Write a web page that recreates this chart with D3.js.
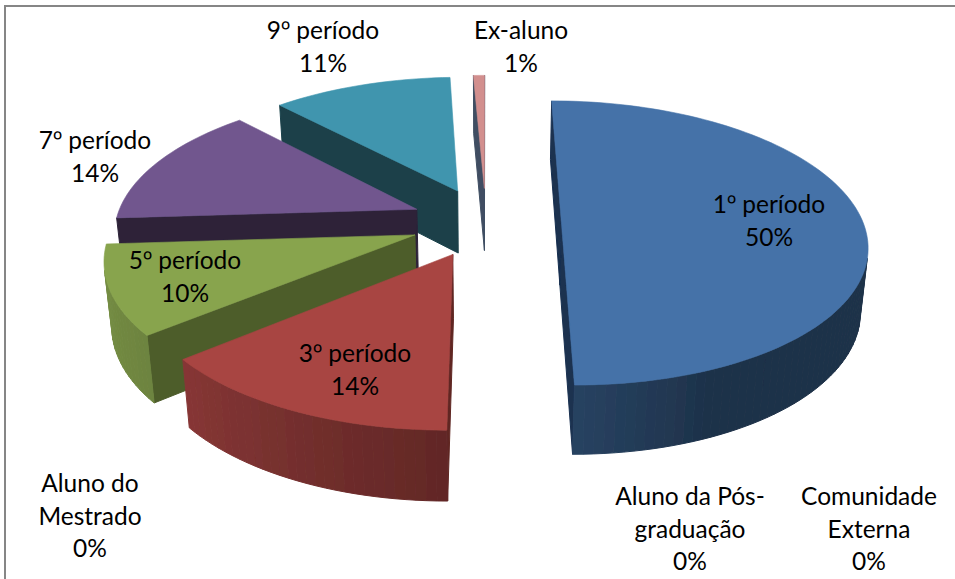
<!DOCTYPE html>
<html>
<head>
<meta charset="utf-8">
<script src="https://d3js.org/d3.v7.min.js"></script>
<style>
  @font-face { font-family: "Ordinal"; src: local("Noto Sans Regular"), local("NotoSans-Regular"), local("Noto Sans"); unicode-range: U+BA; }
  html, body { margin: 0; padding: 0; background: #fff; }
  svg { display: block; }
  text { font-family: Ordinal, Lato, "Open Sans", sans-serif; font-size: 24.5px; fill: #000; }
</style>
</head>
<body>
<div id="chart"></div>
<script>
// chart data, clockwise from 12 o'clock
var categories = ["1º período", "Comunidade\nExterna", "Aluno da Pós-\ngraduação", "Aluno do\nMestrado",
    "3º período", "5º período", "7º período", "9º período", "Ex-aluno"];
var values = [50, 0, 0, 0, 14, 10, 14, 11.3, 0.7];

var topColors = ["#4472a8", "#4472a8", "#4472a8", "#4472a8", "#a84442", "#88a44e", "#71578e", "#3f95ae", "#d28f8e"];
var wallColors = ["#1a3050", "#1a3050", "#1a3050", "#1a3050", "#602724", "#4e5d2c", "#2d2339", "#1a4049", "#3f4e62"];

// label anchor (centre x, first baseline) for each category
var labelPos = [[769, 213], [869, 505], [690, 505], [90, 492], [355, 362], [185, 269], [95, 149], [323, 39], [521, 39]];

function init() {
    var w = 955, h = 579;

    var svg = d3.select("#chart").append("svg")
        .attr("width", w)
        .attr("height", h);

    // outer frame, only its top and left sides fall inside the picture
    svg.append("rect")
        .attr("x", 5).attr("y", 6)
        .attr("width", 1000).attr("height", 600)
        .attr("fill", "#fff")
        .attr("stroke", "#868686")
        .attr("stroke-width", 2);

    var defs = svg.append("defs");
    defs.append("filter").attr("id", "soft")
        .append("feGaussianBlur").attr("stdDeviation", 0.7);

    // perspective set up: vanishing point above the picture
    var vx = 486, vy = -716, camDist = 6.75, fx = 2035, fy = 6331;
    var explode = 0.25;

    // top surface, x right, z towards viewer, pie radius = 1
    function project(x, z) {
        var d = camDist - z;
        return [vx + fx * x / d, vy + fy / d];
    }
    // point straight below a top surface point
    function drop(p) {
        var depth = 55 + 0.037 * p[1];
        return [p[0] + (vx - p[0]) * depth / 3200, p[1] + depth];
    }

    var wallShade = d3.scaleLinear()
        .domain([90, 155, 180, 230, 266, 360])
        .range([0.43, 0.43, 0.58, 0.8, 0.88, 0.88]);

    var pie = d3.pie().sort(null).value(d => d);
    var arcs = pie(values);

    var line = d3.line();

    var slices = arcs.map(function (a, i) {
        var mid = (a.startAngle + a.endAngle) / 2;
        var ox = explode * Math.sin(mid),
            oz = -explode * Math.cos(mid);
        return {
            i: i, arc: a, ox: ox, oz: oz,
            apex: project(ox, oz),
            point: function (t) {
                return project(ox + Math.sin(t), oz - Math.cos(t));
            }
        };
    }).filter(s => s.arc.value > 0);

    // back slices first
    slices.sort((a, b) => a.oz - b.oz);

    var pieG = svg.append("g").attr("filter", "url(#soft)");

    slices.forEach(function (s) {
        var g = pieG.append("g");
        var a0 = s.arc.startAngle, a1 = s.arc.endAngle;
        var n = Math.max(2, Math.ceil((a1 - a0) / 0.03));
        var rim = d3.range(n + 1).map(j => s.point(a0 + (a1 - a0) * j / n));

        function face(poly, fill) {
            // only the walls turned to the viewer
            if (d3.polygonArea(poly) >= 0) return;
            g.append("path")
                .attr("d", line(poly) + "Z")
                .attr("fill", fill)
                .attr("stroke", fill)
                .attr("stroke-width", 1)
                .attr("stroke-linejoin", "round");
        }

        // radial walls
        face([rim[0], s.apex, drop(s.apex), drop(rim[0])], wallColors[s.i]);
        face([s.apex, rim[n], drop(rim[n]), drop(s.apex)], wallColors[s.i]);

        // curved wall in narrow strips
        d3.range(n).forEach(function (j) {
            var deg = (a0 + (a1 - a0) * (j + 0.5) / n) * 180 / Math.PI;
            var c = d3.rgb(topColors[s.i]);
            var k = wallShade(deg);
            var fill = d3.rgb(c.r * k, c.g * k, c.b * k).formatHex();
            face([rim[j], drop(rim[j]), drop(rim[j + 1]), rim[j + 1]], fill);
        });

        // top surface
        g.append("path")
            .attr("d", line([s.apex].concat(rim)) + "Z")
            .attr("fill", topColors[s.i])
            .attr("stroke", topColors[s.i])
            .attr("stroke-width", 0.6);
    });

    // labels, name then percent
    var pct = d3.format(".0%");
    var total = d3.sum(values);
    var labels = svg.selectAll(".label")
        .data(categories)
        .enter()
        .append("text")
        .attr("class", "label")
        .attr("text-anchor", "middle");

    labels.each(function (d, i) {
        var rows = d.split("\n").concat(pct(values[i] / total));
        d3.select(this).selectAll("tspan")
            .data(rows)
            .enter()
            .append("tspan")
            .attr("x", labelPos[i][0])
            .attr("y", (r, j) => labelPos[i][1] + j * 32.6)
            .text(r => r);
    });
}

window.onload = init;
</script>
</body>
</html>
